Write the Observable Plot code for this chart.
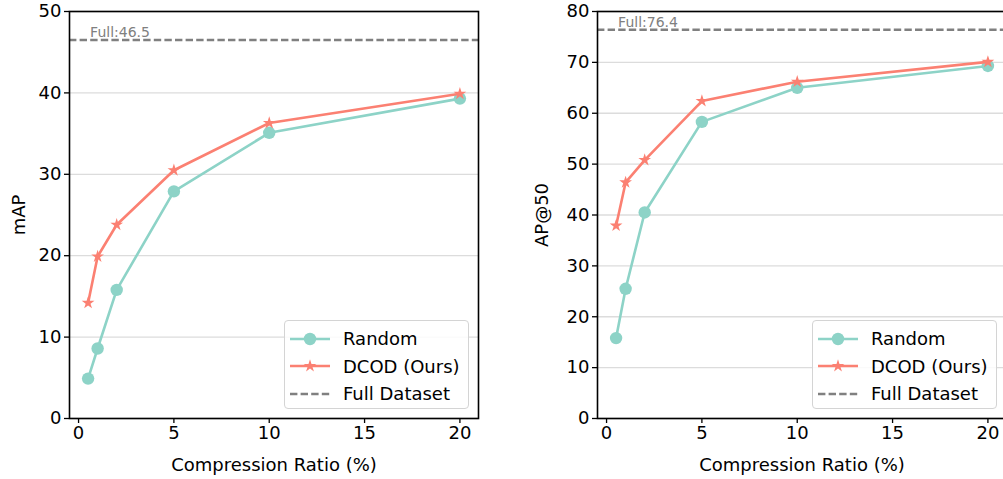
<!DOCTYPE html>
<html><head><meta charset="utf-8">
<script src="https://cdn.jsdelivr.net/npm/d3@7"></script>
<script src="https://cdn.jsdelivr.net/npm/@observablehq/plot@0.6"></script>
<style>
html,body{margin:0;padding:0;background:#fff;overflow:hidden;}
#wrap{position:relative;width:1003px;height:479px;overflow:hidden;font-family:"DejaVu Sans",sans-serif;}
.panel{position:absolute;top:0;}
.panel svg{max-width:none !important;display:block;}
.legend{position:absolute;border:1px solid #d4d4d4;border-radius:4px;background:rgba(255,255,255,0.85);box-sizing:border-box;padding:4px 0 0 5px;}
.row{display:flex;align-items:center;height:27.6px;font-size:18px;color:#000;white-space:nowrap;}
.row svg{margin-right:13px;flex:none;}
</style>
</head><body>
<div id="wrap"></div>
<script>
// ---- data ----
const ratios = [0.5, 1, 2, 5, 10, 20];
const xTicks = [0, 5, 10, 15, 20];
const mapRandom = [4.9, 8.6, 15.8, 27.9, 35.1, 39.3];
const mapDcod = [14.2, 19.9, 23.8, 30.5, 36.3, 39.9];
const mapFull = 46.5;
const mapTicks = [0, 10, 20, 30, 40, 50];
const ap50Random = [15.8, 25.5, 40.5, 58.3, 65.0, 69.3];
const ap50Dcod = [37.9, 46.4, 50.8, 62.4, 66.2, 70.1];
const ap50Full = 76.4;
const ap50Ticks = [0, 10, 20, 30, 40, 50, 60, 70, 80];
const seriesNames = ["Random", "DCOD (Ours)", "Full Dataset"];
const xLabel = "Compression Ratio (%)";

const colRandom = "#8dd3c7", colDcod = "#fb8072", colFull = "#808080";

function panel({left, width, marginLeft, marginRight, yLabel, yTicks, yMax, random, dcod, full, yLabelOffset}) {
  const rows = ratios.map((r, i) => ({x: r, random: random[i], dcod: dcod[i]}));
  const p = Plot.plot({
    width, height: 479,
    marginLeft, marginRight, marginTop: 11, marginBottom: 61,
    style: {fontFamily: "DejaVu Sans", fontSize: "18px", background: "white", color: "black", maxWidth: "none"},
    x: {domain: [-0.475, 20.975], ticks: xTicks, label: null},
    y: {domain: [0, yMax], ticks: yTicks, label: null},
    marks: [
      Plot.ruleY(yTicks, {stroke: "#dcdcdc", strokeWidth: 1.3}),
      Plot.axisX({ticks: xTicks, tickSize: 5, tickPadding: 3, strokeWidth: 1.3, fontSize: 18, label: xLabel, labelAnchor: "center", labelOffset: 52, labelArrow: "none"}),
      Plot.axisY({ticks: yTicks, tickSize: 5, tickPadding: 3, strokeWidth: 1.3, fontSize: 18, label: yLabel, labelAnchor: "center", labelOffset: yLabelOffset, labelArrow: "none"}),
      Plot.ruleY([full], {stroke: colFull, strokeWidth: 2.6, strokeDasharray: "7.4,3.2"}),
      Plot.text([full], {x: 0.5, y: d => d, text: d => `Full:${d}`, textAnchor: "start", lineAnchor: "bottom", dx: 2, dy: -3, fill: colFull, fontSize: 14}),
      Plot.line(rows, {x: "x", y: "random", stroke: colRandom, strokeWidth: 2.6}),
      Plot.dot(rows, {x: "x", y: "random", r: 6.2, fill: colRandom, stroke: null}),
      Plot.line(rows, {x: "x", y: "dcod", stroke: colDcod, strokeWidth: 2.6}),
      Plot.dot(rows, {x: "x", y: "dcod", symbol: "star", r: 4, fill: colDcod, stroke: null}),
      Plot.frame({stroke: "black", strokeWidth: 1.6})
    ]
  });
  const div = document.createElement("div");
  div.className = "panel";
  div.style.left = left + "px";
  div.style.width = width + "px";
  div.appendChild(p);
  document.getElementById("wrap").appendChild(div);

  // legend
  const lg = document.createElement("div");
  lg.className = "legend";
  lg.style.left = (left + width - marginRight - 194) + "px";
  lg.style.top = "320px";
  lg.style.width = "185px";
  lg.style.height = "89px";
  const specs = [
    {name: seriesNames[0], color: colRandom, marker: "circle"},
    {name: seriesNames[1], color: colDcod, marker: "star"},
    {name: seriesNames[2], color: colFull, marker: null, dash: "7.4,3.2"}
  ];
  for (const s of specs) {
    const row = document.createElement("div");
    row.className = "row";
    const svg = d3.create("svg").attr("width", 40).attr("height", 20);
    svg.append("line").attr("x1", 0).attr("x2", 40).attr("y1", 10).attr("y2", 10)
      .attr("stroke", s.color).attr("stroke-width", 2.6).attr("stroke-dasharray", s.dash || null);
    if (s.marker === "circle") svg.append("circle").attr("cx", 20).attr("cy", 10).attr("r", 6.2).attr("fill", s.color);
    if (s.marker === "star") svg.append("path").attr("transform", "translate(20,10)")
      .attr("d", d3.symbol(d3.symbolStar, Math.PI * 4 * 4)()).attr("fill", s.color);
    row.appendChild(svg.node());
    const t = document.createElement("span");
    t.textContent = s.name;
    row.appendChild(t);
    lg.appendChild(row);
  }
  document.getElementById("wrap").appendChild(lg);
}

panel({left: 0, width: 500, marginLeft: 69, marginRight: 22, yLabel: "mAP", yTicks: mapTicks, yMax: 50,
  random: mapRandom, dcod: mapDcod, full: mapFull, yLabelOffset: 57});
panel({left: 500, width: 510, marginLeft: 97, marginRight: 4, yLabel: "AP@50", yTicks: ap50Ticks, yMax: 80,
  random: ap50Random, dcod: ap50Dcod, full: ap50Full, yLabelOffset: 62});
</script>
</body></html>
